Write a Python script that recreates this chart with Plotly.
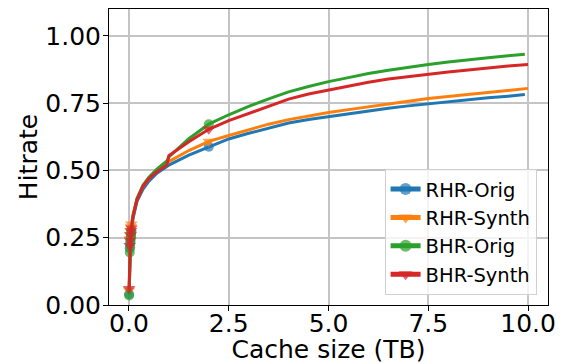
import plotly.graph_objects as go

# Cache sizes (TB)
x_orig = [0.004, 0.02, 0.03, 0.04, 0.05, 0.06, 0.1, 0.2, 0.35, 0.5, 0.7, 0.95, 1.0, 1.5, 2.0,
          2.5, 3.0, 3.5, 4.0, 4.5, 5.0, 5.5, 6.0, 6.5, 7.0, 7.5, 8.0, 8.5, 9.0, 9.5, 9.92]
x_synth = [0.004, 0.02, 0.03, 0.04, 0.05, 0.06, 0.1, 0.2, 0.35, 0.5, 0.7, 0.95, 1.0, 1.5, 2.0,
           2.5, 3.0, 3.5, 4.0, 4.5, 5.0, 5.5, 6.0, 6.5, 7.0, 7.5, 8.0, 8.5, 9.0, 9.5, 10.0]
# which points carry a marker
marked = [1, 1, 1, 1, 1, 1, 0, 0, 0, 0, 0, 0, 0, 0, 1,
          0, 0, 0, 0, 0, 0, 0, 0, 0, 0, 0, 0, 0, 0, 0, 0]

rhr_orig = [0.04, 0.21, 0.23, 0.245, 0.26, 0.275, 0.32, 0.385, 0.43, 0.46, 0.49, 0.515, 0.52,
            0.557, 0.588, 0.617, 0.638, 0.658, 0.676, 0.689, 0.700, 0.711, 0.721, 0.731,
            0.740, 0.748, 0.756, 0.763, 0.770, 0.776, 0.782]
rhr_synth = [0.055, 0.245, 0.26, 0.275, 0.29, 0.30, 0.335, 0.395, 0.44, 0.47, 0.50, 0.527, 0.533,
             0.574, 0.608, 0.630, 0.652, 0.672, 0.689, 0.703, 0.715, 0.726, 0.737, 0.747,
             0.757, 0.767, 0.775, 0.783, 0.791, 0.798, 0.805]
bhr_orig = [0.035, 0.195, 0.215, 0.235, 0.255, 0.27, 0.325, 0.395, 0.445, 0.475, 0.505, 0.535, 0.55,
            0.618, 0.672, 0.707, 0.738, 0.766, 0.792, 0.812, 0.830, 0.845, 0.860, 0.872,
            0.884, 0.894, 0.903, 0.912, 0.919, 0.926, 0.932]
bhr_synth = [0.06, 0.22, 0.24, 0.26, 0.275, 0.285, 0.33, 0.39, 0.44, 0.47, 0.495, 0.52, 0.555,
             0.607, 0.653, 0.685, 0.712, 0.740, 0.765, 0.784, 0.799, 0.814, 0.828, 0.840,
             0.849, 0.858, 0.866, 0.873, 0.881, 0.888, 0.894]

series = [
    ("RHR-Orig", x_orig, rhr_orig, "#1f77b4", "circle", 10),
    ("RHR-Synth", x_synth, rhr_synth, "#ff7f0e", "triangle-down", 11),
    ("BHR-Orig", x_orig, bhr_orig, "#2ca02c", "circle", 10),
    ("BHR-Synth", x_synth, bhr_synth, "#d62728", "triangle-down", 11),
]

FONT = "DejaVu Sans"
fig = go.Figure()
for name, xs, ys, color, sym, sz in series:
    fig.add_trace(go.Scatter(
        x=xs, y=ys, name=name, mode="lines+markers",
        line=dict(color=color, width=3),
        marker=dict(symbol=sym, color=color, size=[sz if m else 0 for m in marked],
                    line=dict(width=0)),
    ))

axis_common = dict(
    showline=True, linecolor="black", linewidth=1, mirror=True,
    ticks="outside", ticklen=5, tickwidth=1, tickcolor="black",
    showgrid=True, gridcolor="#c4c4c4", gridwidth=1.5, zeroline=False,
    tickfont=dict(family=FONT, size=25, color="black"),
    automargin=False,
)
fig.update_xaxes(range=[-0.5, 10.5], tickvals=[0, 2.5, 5, 7.5, 10], tickformat=".1f",
                 ticklabelstandoff=-9,
                 title=dict(text="Cache size (TB)", font=dict(family=FONT, size=25, color="black"),
                            standoff=8),
                 **axis_common)
fig.update_yaxes(range=[0, 1.1], tickvals=[0, 0.25, 0.5, 0.75, 1.0], tickformat=".2f",
                 ticklabelstandoff=-3,
                 title=dict(text="Hitrate", font=dict(family=FONT, size=25, color="black"),
                            standoff=0),
                 **axis_common)
fig.update_layout(
    width=555, height=356,
    margin=dict(l=101, r=15, t=1, b=59),
    paper_bgcolor="white", plot_bgcolor="white",
    font=dict(family=FONT, color="black"),
    legend=dict(x=0.974, y=0.034, xanchor="right", yanchor="bottom",
                bgcolor="rgba(255,255,255,0.8)", bordercolor="#d0d0d0", borderwidth=1,
                font=dict(family=FONT, size=19.5, color="black"), itemsizing="constant"),
    showlegend=True,
)
fig.write_html("out.html")
